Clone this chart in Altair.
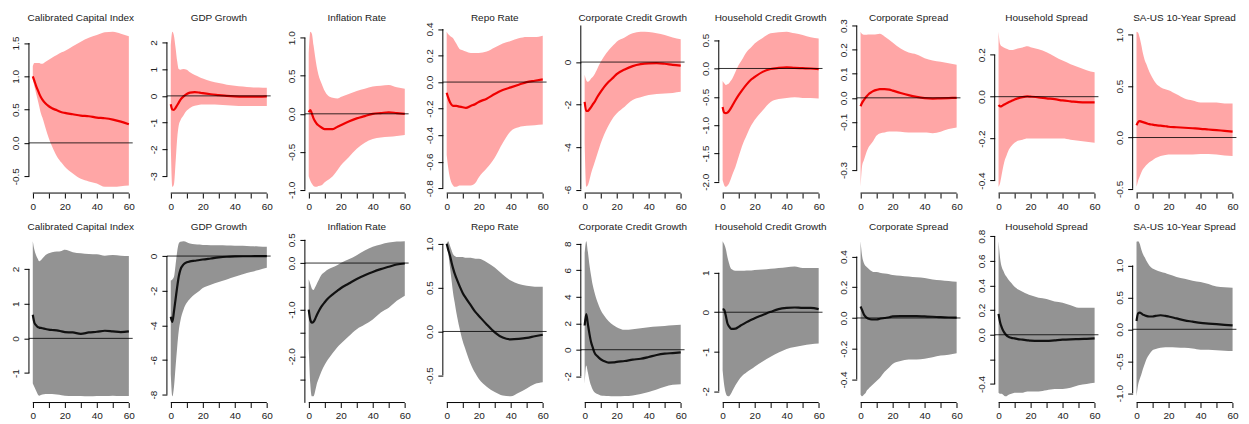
import altair as alt
import pandas as pd

# Horizons (months) at which the responses are read
H = [0, 1, 2, 3, 4, 5, 6, 8, 10, 12, 15, 18, 20, 25, 30, 35, 40, 45, 50, 55, 60]

titles = ["Calibrated Capital Index", "GDP Growth", "Inflation Rate", "Repo Rate",
          "Corporate Credit Growth", "Household Credit Growth", "Corporate Spread",
          "Household Spread", "SA-US 10-Year Spread"]

# ---------------- top row (red) ----------------
cci_r_mid = [1.0, 0.93, 0.86, 0.8, 0.74, 0.69, 0.65, 0.59, 0.55, 0.52, 0.49, 0.46, 0.45, 0.43, 0.41, 0.4, 0.38, 0.37, 0.35, 0.32, 0.28]
cci_r_hi = [1.15, 1.2, 1.2, 1.2, 1.2, 1.19, 1.19, 1.22, 1.25, 1.28, 1.32, 1.36, 1.38, 1.45, 1.52, 1.58, 1.62, 1.66, 1.67, 1.64, 1.6]
cci_r_lo = [0.95, 0.85, 0.75, 0.65, 0.55, 0.45, 0.38, 0.22, 0.07, -0.05, -0.2, -0.3, -0.36, -0.46, -0.54, -0.58, -0.61, -0.66, -0.66, -0.65, -0.64]

gdp_r_mid = [-0.31, -0.51, -0.52, -0.45, -0.35, -0.25, -0.15, -0.02, 0.07, 0.12, 0.14, 0.12, 0.1, 0.06, 0.03, 0.0, -0.02, -0.03, -0.03, -0.03, -0.02]
gdp_r_hi = [1.9, 2.4, 2.25, 1.8, 1.3, 1.0, 0.98, 1.0, 0.98, 0.88, 0.78, 0.7, 0.65, 0.55, 0.48, 0.42, 0.38, 0.35, 0.32, 0.31, 0.3]
gdp_r_lo = [-1.8, -3.4, -3.3, -2.5, -1.6, -1.1, -0.92, -0.72, -0.55, -0.45, -0.37, -0.33, -0.32, -0.32, -0.33, -0.35, -0.37, -0.38, -0.38, -0.38, -0.38]

inf_r_mid = [0.02, 0.05, 0.0, -0.06, -0.1, -0.13, -0.15, -0.18, -0.2, -0.2, -0.2, -0.17, -0.15, -0.1, -0.06, -0.03, 0.0, 0.01, 0.02, 0.01, 0.0]
inf_r_hi = [0.8, 1.08, 1.05, 0.9, 0.75, 0.62, 0.52, 0.4, 0.3, 0.24, 0.21, 0.2, 0.22, 0.26, 0.3, 0.33, 0.36, 0.37, 0.38, 0.35, 0.33]
inf_r_lo = [-0.82, -0.88, -0.92, -0.95, -0.96, -0.96, -0.95, -0.94, -0.9, -0.87, -0.82, -0.74, -0.68, -0.57, -0.46, -0.38, -0.33, -0.31, -0.3, -0.29, -0.28]

repo_r_mid = [-0.08, -0.12, -0.15, -0.17, -0.18, -0.18, -0.18, -0.185, -0.19, -0.195, -0.18, -0.165, -0.15, -0.125, -0.09, -0.06, -0.04, -0.02, 0.0, 0.01, 0.02]
repo_r_hi = [0.38, 0.36, 0.35, 0.34, 0.33, 0.31, 0.29, 0.25, 0.24, 0.23, 0.22, 0.22, 0.22, 0.23, 0.26, 0.29, 0.31, 0.33, 0.34, 0.34, 0.35]
repo_r_lo = [-0.55, -0.65, -0.72, -0.76, -0.78, -0.79, -0.79, -0.78, -0.78, -0.78, -0.78, -0.76, -0.72, -0.65, -0.57, -0.46, -0.37, -0.34, -0.33, -0.325, -0.32]

ccg_r_mid = [-1.87, -2.3, -2.3, -2.22, -2.12, -2.0, -1.9, -1.63, -1.4, -1.19, -0.93, -0.72, -0.57, -0.35, -0.19, -0.1, -0.06, -0.05, -0.08, -0.13, -0.17]
ccg_r_hi = [-0.6, -0.85, -0.93, -0.88, -0.77, -0.7, -0.6, -0.3, 0.0, 0.25, 0.56, 0.8, 0.96, 1.16, 1.35, 1.43, 1.41, 1.35, 1.27, 1.16, 1.07]
ccg_r_lo = [-3.8, -5.87, -5.8, -5.55, -5.24, -5.0, -4.77, -4.3, -3.83, -3.44, -2.97, -2.6, -2.42, -2.1, -1.79, -1.66, -1.55, -1.5, -1.48, -1.45, -1.4]

hcg_r_mid = [-0.68, -0.78, -0.79, -0.78, -0.75, -0.71, -0.66, -0.56, -0.47, -0.39, -0.28, -0.19, -0.15, -0.06, -0.01, 0.01, 0.02, 0.01, 0.005, 0.0, -0.01]
hcg_r_hi = [-0.22, -0.26, -0.29, -0.28, -0.26, -0.22, -0.18, -0.06, 0.06, 0.15, 0.29, 0.38, 0.44, 0.54, 0.62, 0.64, 0.65, 0.62, 0.59, 0.55, 0.53]
hcg_r_lo = [-1.97, -2.06, -2.09, -2.07, -2.03, -1.96, -1.88, -1.74, -1.56, -1.38, -1.18, -1.0, -0.91, -0.74, -0.59, -0.54, -0.52, -0.51, -0.52, -0.52, -0.53]

csp_r_mid = [-0.035, -0.02, -0.01, 0.0, 0.008, 0.015, 0.02, 0.028, 0.033, 0.036, 0.036, 0.034, 0.03, 0.02, 0.011, 0.004, -0.001, -0.003, -0.002, -0.001, 0.0]
csp_r_hi = [0.275, 0.265, 0.262, 0.262, 0.262, 0.263, 0.263, 0.263, 0.264, 0.266, 0.255, 0.24, 0.23, 0.205, 0.188, 0.18, 0.165, 0.155, 0.15, 0.144, 0.138]
csp_r_lo = [-0.37, -0.28, -0.26, -0.24, -0.22, -0.205, -0.196, -0.178, -0.157, -0.148, -0.144, -0.14, -0.14, -0.141, -0.144, -0.144, -0.144, -0.147, -0.141, -0.13, -0.123]

hsp_r_mid = [-0.04, -0.046, -0.045, -0.04, -0.036, -0.032, -0.028, -0.021, -0.014, -0.008, -0.002, 0.001, 0.0, -0.003, -0.008, -0.012, -0.018, -0.022, -0.026, -0.027, -0.027]
hsp_r_hi = [0.31, 0.25, 0.24, 0.236, 0.232, 0.228, 0.225, 0.222, 0.225, 0.23, 0.235, 0.24, 0.236, 0.226, 0.212, 0.192, 0.172, 0.155, 0.14, 0.126, 0.116]
hsp_r_lo = [-0.43, -0.41, -0.37, -0.33, -0.3, -0.28, -0.26, -0.235, -0.22, -0.21, -0.205, -0.2, -0.2, -0.2, -0.2, -0.2, -0.2, -0.205, -0.21, -0.215, -0.22]

sau_r_mid = [0.12, 0.15, 0.16, 0.155, 0.15, 0.145, 0.14, 0.13, 0.125, 0.12, 0.115, 0.11, 0.105, 0.1, 0.095, 0.09, 0.085, 0.078, 0.072, 0.065, 0.058]
sau_r_hi = [1.03, 1.02, 0.97, 0.9, 0.82, 0.76, 0.72, 0.64, 0.58, 0.53, 0.49, 0.47, 0.46, 0.42, 0.38, 0.36, 0.34, 0.34, 0.34, 0.33, 0.33]
sau_r_lo = [-0.48, -0.42, -0.38, -0.34, -0.31, -0.29, -0.27, -0.24, -0.22, -0.2, -0.18, -0.17, -0.165, -0.165, -0.165, -0.165, -0.16, -0.16, -0.165, -0.175, -0.18]

# ---------------- bottom row (black) ----------------
cci_k_mid = [0.68, 0.45, 0.38, 0.33, 0.31, 0.3, 0.29, 0.27, 0.25, 0.24, 0.23, 0.2, 0.18, 0.17, 0.13, 0.17, 0.19, 0.22, 0.2, 0.18, 0.2]
cci_k_hi = [2.8, 2.55, 2.4, 2.3, 2.22, 2.25, 2.3, 2.4, 2.45, 2.48, 2.5, 2.52, 2.55, 2.48, 2.45, 2.43, 2.42, 2.38, 2.4, 2.38, 2.37]
cci_k_lo = [-1.3, -1.4, -1.5, -1.6, -1.65, -1.63, -1.62, -1.6, -1.6, -1.6, -1.62, -1.64, -1.65, -1.66, -1.66, -1.67, -1.66, -1.66, -1.65, -1.66, -1.66]

gdp_k_mid = [-3.5, -3.8, -3.2, -2.5, -1.8, -1.18, -0.8, -0.48, -0.36, -0.31, -0.27, -0.23, -0.2, -0.14, -0.08, -0.04, -0.02, -0.01, -0.01, 0.0, 0.0]
gdp_k_hi = [-1.41, -1.35, -1.2, -0.51, 0.25, 0.72, 0.82, 0.86, 0.8, 0.72, 0.68, 0.66, 0.64, 0.63, 0.62, 0.61, 0.6, 0.59, 0.57, 0.55, 0.53]
gdp_k_lo = [-6.8, -8.1, -7.56, -6.4, -5.28, -4.32, -3.75, -3.08, -2.7, -2.46, -2.2, -2.0, -1.85, -1.65, -1.5, -1.35, -1.2, -1.05, -0.92, -0.8, -0.68]

inf_k_mid = [-1.0, -1.22, -1.28, -1.26, -1.2, -1.12, -1.05, -0.93, -0.84, -0.76, -0.67, -0.59, -0.54, -0.44, -0.34, -0.26, -0.19, -0.13, -0.08, -0.03, -0.01]
inf_k_hi = [-0.35, -0.45, -0.55, -0.58, -0.52, -0.45, -0.38, -0.25, -0.19, -0.14, -0.09, -0.04, 0.0, 0.08, 0.17, 0.27, 0.35, 0.4, 0.44, 0.46, 0.47]
inf_k_lo = [-1.82, -2.6, -2.86, -2.86, -2.75, -2.6, -2.5, -2.32, -2.18, -2.07, -1.93, -1.8, -1.73, -1.57, -1.42, -1.32, -1.21, -1.06, -0.96, -0.81, -0.7]

repo_k_mid = [1.0, 0.93, 0.87, 0.79, 0.72, 0.66, 0.61, 0.52, 0.44, 0.38, 0.3, 0.22, 0.18, 0.08, -0.01, -0.07, -0.09, -0.085, -0.074, -0.055, -0.037]
repo_k_hi = [1.0, 1.03, 0.98, 0.93, 0.88, 0.86, 0.85, 0.85, 0.85, 0.84, 0.84, 0.83, 0.83, 0.79, 0.73, 0.65, 0.58, 0.54, 0.52, 0.51, 0.51]
repo_k_lo = [1.0, 0.89, 0.74, 0.59, 0.44, 0.33, 0.22, 0.04, -0.11, -0.22, -0.37, -0.48, -0.54, -0.63, -0.69, -0.73, -0.74, -0.7, -0.65, -0.6, -0.58]

ccg_k_mid = [1.83, 2.7, 1.95, 1.2, 0.58, 0.2, -0.18, -0.5, -0.72, -0.85, -0.97, -0.96, -0.92, -0.85, -0.75, -0.68, -0.55, -0.4, -0.3, -0.25, -0.2]
ccg_k_hi = [7.3, 8.2, 7.4, 6.4, 5.6, 4.9, 4.4, 3.6, 3.0, 2.6, 2.15, 1.85, 1.7, 1.5, 1.55, 1.62, 1.7, 1.76, 1.8, 1.85, 1.88]
ccg_k_lo = [-2.6, -1.2, -1.7, -2.3, -2.7, -3.0, -3.2, -3.35, -3.45, -3.48, -3.5, -3.52, -3.52, -3.5, -3.45, -3.35, -3.2, -3.0, -2.8, -2.65, -2.6]

hcg_k_mid = [0.08, 0.06, -0.09, -0.28, -0.36, -0.41, -0.42, -0.415, -0.37, -0.32, -0.25, -0.19, -0.15, -0.07, 0.01, 0.08, 0.11, 0.12, 0.11, 0.11, 0.08]
hcg_k_hi = [1.8, 1.72, 1.6, 1.4, 1.24, 1.12, 1.08, 1.05, 1.05, 1.05, 1.06, 1.06, 1.07, 1.08, 1.1, 1.12, 1.14, 1.16, 1.12, 1.12, 1.12]
hcg_k_lo = [-1.47, -1.85, -2.05, -2.12, -2.13, -2.08, -2.0, -1.85, -1.72, -1.62, -1.52, -1.44, -1.38, -1.25, -1.13, -1.02, -0.93, -0.88, -0.84, -0.81, -0.79]

csp_k_mid = [0.075, 0.05, 0.025, 0.01, 0.0, -0.005, -0.008, -0.01, -0.01, -0.005, 0.0, 0.005, 0.01, 0.012, 0.012, 0.012, 0.01, 0.008, 0.005, 0.003, 0.002]
csp_k_hi = [0.5, 0.4, 0.36, 0.34, 0.33, 0.32, 0.31, 0.3, 0.3, 0.295, 0.29, 0.285, 0.28, 0.275, 0.27, 0.265, 0.26, 0.25, 0.245, 0.24, 0.235]
csp_k_lo = [-0.5, -0.51, -0.5, -0.49, -0.47, -0.46, -0.45, -0.43, -0.41, -0.39, -0.35, -0.32, -0.3, -0.28, -0.27, -0.27, -0.265, -0.255, -0.245, -0.24, -0.23]

hsp_k_mid = [0.17, 0.1, 0.06, 0.03, 0.01, -0.005, -0.015, -0.025, -0.03, -0.035, -0.04, -0.045, -0.048, -0.05, -0.05, -0.045, -0.04, -0.037, -0.035, -0.033, -0.03]
hsp_k_hi = [0.76, 0.62, 0.55, 0.52, 0.49, 0.47, 0.45, 0.42, 0.39, 0.37, 0.35, 0.33, 0.32, 0.3, 0.29, 0.27, 0.26, 0.24, 0.22, 0.22, 0.22]
hsp_k_lo = [-0.47, -0.48, -0.48, -0.49, -0.5, -0.5, -0.49, -0.48, -0.47, -0.47, -0.47, -0.46, -0.46, -0.46, -0.45, -0.44, -0.44, -0.43, -0.41, -0.4, -0.39]

sau_k_mid = [0.13, 0.25, 0.26, 0.25, 0.23, 0.22, 0.21, 0.2, 0.2, 0.21, 0.22, 0.21, 0.2, 0.17, 0.14, 0.12, 0.1, 0.09, 0.08, 0.07, 0.06]
sau_k_hi = [1.37, 1.38, 1.34, 1.25, 1.18, 1.13, 1.08, 1.0, 0.95, 0.93, 0.9, 0.88, 0.86, 0.82, 0.79, 0.76, 0.74, 0.71, 0.67, 0.66, 0.65]
sau_k_lo = [-1.05, -0.87, -0.78, -0.71, -0.62, -0.55, -0.48, -0.39, -0.33, -0.31, -0.29, -0.28, -0.28, -0.285, -0.29, -0.3, -0.32, -0.32, -0.33, -0.335, -0.34]

# ---------------- y-axis tick labels ----------------
ticks_r = [[-0.5, 0.0, 0.5, 1.0, 1.5], [-3, -2, -1, 0, 1, 2], [-1.0, -0.5, 0.0, 0.5, 1.0],
           [-0.8, -0.6, -0.4, -0.2, 0.0, 0.2, 0.4], [-6, -4, -2, 0], [-2.0, -1.5, -1.0, -0.5, 0.0, 0.5],
           [-0.3, -0.2, -0.1, 0.0, 0.1, 0.2, 0.3], [-0.4, -0.2, 0.0, 0.2], [-0.5, 0.0, 0.5, 1.0]]
ticks_k = [[-1, 0, 1, 2], [-8, -6, -4, -2, 0], [-3.0, -2.5, -2.0, -1.5, -1.0, -0.5, 0.0, 0.5],
           [-0.5, 0.0, 0.5, 1.0], [-2, 0, 2, 4, 6, 8], [-2, -1, 0, 1],
           [-0.4, -0.2, 0.0, 0.2, 0.4], [-0.4, -0.2, 0.0, 0.2, 0.4, 0.6, 0.8], [-1.0, -0.5, 0.0, 0.5, 1.0]]
hidden_r = [[], [], [], [], [], [], [-0.2], [], []]
hidden_k = [[], [], [-2.5, -1.5, -0.5], [], [], [], [], [-0.2], []]
decimals_r = [1, 0, 1, 1, 0, 1, 1, 1, 1]
decimals_k = [0, 0, 1, 1, 0, 0, 1, 1, 1]
axis_to_top_r = [False, False, False, False, True, False, False, False, False]
x_ticks = [0, 10, 20, 30, 40, 50, 60]

top_series = [(cci_r_mid, cci_r_lo, cci_r_hi), (gdp_r_mid, gdp_r_lo, gdp_r_hi), (inf_r_mid, inf_r_lo, inf_r_hi),
              (repo_r_mid, repo_r_lo, repo_r_hi), (ccg_r_mid, ccg_r_lo, ccg_r_hi), (hcg_r_mid, hcg_r_lo, hcg_r_hi),
              (csp_r_mid, csp_r_lo, csp_r_hi), (hsp_r_mid, hsp_r_lo, hsp_r_hi), (sau_r_mid, sau_r_lo, sau_r_hi)]
bot_series = [(cci_k_mid, cci_k_lo, cci_k_hi), (gdp_k_mid, gdp_k_lo, gdp_k_hi), (inf_k_mid, inf_k_lo, inf_k_hi),
              (repo_k_mid, repo_k_lo, repo_k_hi), (ccg_k_mid, ccg_k_lo, ccg_k_hi), (hcg_k_mid, hcg_k_lo, hcg_k_hi),
              (csp_k_mid, csp_k_lo, csp_k_hi), (hsp_k_mid, hsp_k_lo, hsp_k_hi), (sau_k_mid, sau_k_lo, sau_k_hi)]

PW, PH = 104, 168
FONT = "Liberation Sans"


def panel(title, mid, lo, hi, ticks, hidden, dec, to_top, band_col, line_col):
    df = pd.DataFrame({"h": H, "mid": mid, "lo": lo, "hi": hi})
    ymin = min(lo + mid)
    ymax = max(hi + mid)
    r = ymax - ymin
    ydom = [ymin - 0.04 * r, ymax + 0.04 * r]
    xr = H[-1] - H[0]
    xdom = [H[0] - 0.04 * xr, H[-1] + 0.04 * xr]
    xs = alt.Scale(domain=xdom, nice=False, zero=False)
    ys = alt.Scale(domain=ydom, nice=False, zero=False)
    hid = "[" + ",".join(str(v) for v in hidden) + "]"
    yexpr = (f"indexof({hid}, datum.value) >= 0 ? '' : "
             f"(datum.value < 0 ? '-' : '') + format(abs(datum.value), '.{dec}f')")
    yaxis = alt.Axis(values=ticks, title=None, labelAngle=270, labelAlign="center",
                     labelBaseline="bottom", labelExpr=yexpr, labelOverlap=False,
                     labelFlush=False, labelPadding=3, domain=False, grid=False,
                     ticks=True, labels=True)
    xaxis = alt.Axis(values=x_ticks, title=None, labelAngle=0, labelOverlap=False,
                     labelFlush=False, labelPadding=3, domain=False, grid=False,
                     ticks=True, labels=True,
                     labelExpr="datum.value % 20 == 0 ? datum.label : ''")
    band = alt.Chart(df).mark_area(color=band_col, opacity=1, interpolate="monotone").encode(
        x=alt.X("h:Q", scale=xs, axis=xaxis),
        y=alt.Y("lo:Q", scale=ys, axis=yaxis),
        y2="hi:Q",
    )
    line = alt.Chart(df).mark_line(color=line_col, strokeWidth=2.2, interpolate="monotone").encode(
        x=alt.X("h:Q", scale=xs, axis=xaxis),
        y=alt.Y("mid:Q", scale=ys, axis=yaxis),
    )
    zero = alt.Chart(pd.DataFrame({"z": [0]})).mark_rule(color="#000", strokeWidth=1, opacity=0.8).encode(
        y=alt.Y("z:Q", scale=ys, axis=yaxis)
    )
    top_val = ydom[1] if to_top else ticks[-1]
    yline = alt.Chart(pd.DataFrame({"a": [ticks[0]], "b": [top_val]})).mark_rule(
        color="#000", strokeWidth=1).encode(
        x=alt.value(0), y=alt.Y("a:Q", scale=ys, axis=yaxis), y2="b:Q")
    xline = alt.Chart(pd.DataFrame({"a": [x_ticks[0]], "b": [x_ticks[-1]]})).mark_rule(
        color="#000", strokeWidth=1).encode(
        x=alt.X("a:Q", scale=xs, axis=xaxis), x2="b:Q", y=alt.value(PH))
    head = alt.Chart(pd.DataFrame({"t": [title]})).mark_text(
        font=FONT, fontSize=10, color="#222", align="center", baseline="alphabetic").encode(
        text="t:N", x=alt.value(PW / 2), y=alt.value(-4.5))
    return alt.layer(band, line, zero, yline, xline, head).properties(width=PW, height=PH)


charts = []
for i in range(9):
    m, l, h = top_series[i]
    charts.append(panel(titles[i], m, l, h, ticks_r[i], hidden_r[i], decimals_r[i],
                        axis_to_top_r[i], "#FFA6A6", "#F00000"))
for i in range(9):
    m, l, h = bot_series[i]
    charts.append(panel(titles[i], m, l, h, ticks_k[i], hidden_k[i], decimals_k[i],
                        False, "#939393", "#111111"))

chart = alt.concat(*charts, columns=9, spacing={"row": 42, "column": 34.3}, bounds="flush").properties(
    padding={"left": 3, "top": 4, "right": 2, "bottom": 0}
).configure_view(strokeWidth=0).configure_axis(
    labelFont=FONT, labelFontSize=10, labelColor="#222",
    tickColor="#000", tickSize=5, tickWidth=1
)

chart.save("out.html", embed_options={"renderer": "svg", "actions": False})
